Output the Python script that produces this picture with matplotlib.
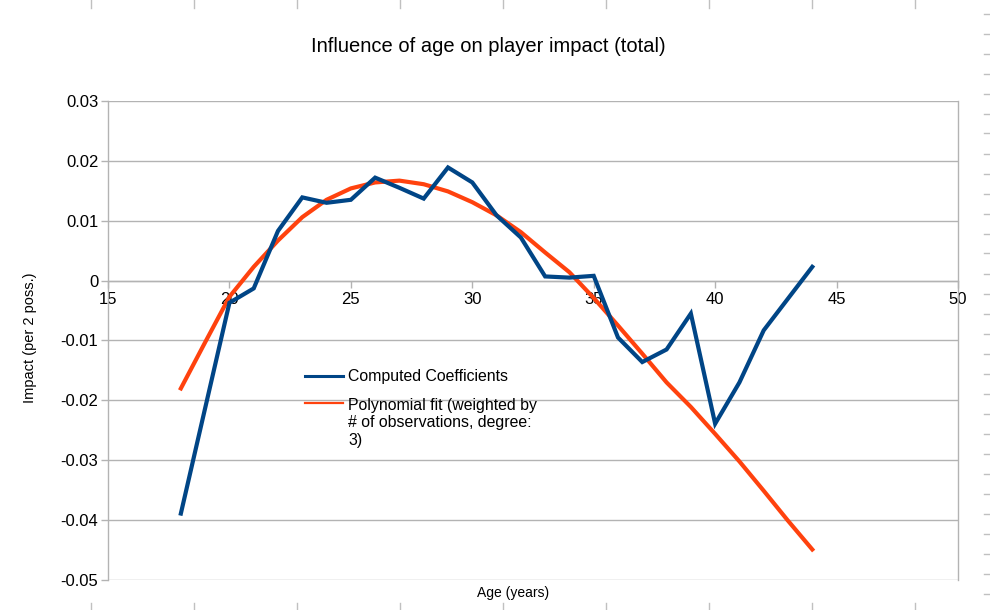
import matplotlib
matplotlib.use("Agg")
import matplotlib.pyplot as plt
from matplotlib.lines import Line2D

plt.rcParams['font.family'] = ['Liberation Sans', 'DejaVu Sans']
plt.rcParams['axes.unicode_minus'] = False

# ---- data ----
ages = [18, 19, 20, 21, 22, 23, 24, 25, 26, 27, 28, 29, 30, 31, 32, 33, 34, 35,
        36, 37, 38, 39, 40, 41, 42, 43, 44]
coefficients = [-0.0389, -0.0213, -0.0037, -0.0013, 0.0083, 0.0139, 0.0130, 0.0135,
                0.0172, 0.0155, 0.0137, 0.0189, 0.0164, 0.0109, 0.0072, 0.0007,
                0.0005, 0.0008, -0.0095, -0.0136, -0.0115, -0.0055, -0.0239,
                -0.0170, -0.0083, -0.0030, 0.0023]
poly_fit = [-0.0180, -0.0103, -0.0027, 0.0023, 0.0067, 0.0106, 0.0135, 0.0154,
            0.0164, 0.0167, 0.0161, 0.0149, 0.0131, 0.0109, 0.0081, 0.0047,
            0.0014, -0.0029, -0.0075, -0.0122, -0.0170, -0.0211, -0.0256,
            -0.0302, -0.0351, -0.0401, -0.0449]
x_ticks = [15, 20, 25, 30, 35, 40, 45, 50]
y_ticks = [0.03, 0.02, 0.01, 0, -0.01, -0.02, -0.03, -0.04, -0.05]
y_tick_labels = ['0.03', '0.02', '0.01', '0', '-0.01', '-0.02', '-0.03', '-0.04', '-0.05']
series_names = ['Computed Coefficients',
                ['Polynomial fit (weighted by', '# of observations, degree:', '3)']]
title = 'Influence of age on player impact (total)'
x_label = 'Age (years)'
y_label = 'Impact (per 2 poss.)'

BLUE = '#004586'
ORANGE = '#ff420e'
GRID = '#b3b3b3'

W, H = 990, 610
fig = plt.figure(figsize=(W / 100, H / 100), dpi=100)
L, R, T, B = 108, 958, 101, 580
ax = fig.add_axes([L / W, 1 - B / H, (R - L) / W, (B - T) / H])

ax.plot(ages, poly_fit, color=ORANGE, lw=3.0, solid_joinstyle='round', zorder=3)
ax.plot(ages, coefficients, color=BLUE, lw=3.0, solid_joinstyle='miter', zorder=4)

ax.set_xlim(15, 50)
ax.set_ylim(-0.05, 0.03)
ax.set_xticks(x_ticks)
ax.set_xticklabels([str(v) for v in x_ticks])
ax.set_yticks(y_ticks)
ax.set_yticklabels(y_tick_labels)

ax.grid(axis='y', color=GRID, lw=1.0)
ax.set_axisbelow(True)
ax.spines['top'].set_visible(False)
ax.spines['bottom'].set_position(('data', 0))
for s in ['left', 'right', 'bottom']:
    ax.spines[s].set_color(GRID)
    ax.spines[s].set_linewidth(1.0)
ax.tick_params(axis='both', colors=GRID, labelcolor='black', labelsize=12,
               length=5, width=1.0)
ax.tick_params(axis='y', pad=2)
ax.tick_params(axis='x', pad=3)
ax.set_facecolor('white')

# legend drawn manually (no frame)
def axc(px, py):
    return ((px - L) / (R - L), (B - py) / (B - T))

x0, y0 = axc(305, 376)
x1, _ = axc(343, 376)
ax.add_line(Line2D([x0, x1], [y0, y0], transform=ax.transAxes, color=BLUE, lw=2.2,
                   zorder=5))
tx, yb = axc(348, 381.5)
ax.text(tx, yb, series_names[0], transform=ax.transAxes, fontsize=11.4,
        va='baseline', ha='left', zorder=5)
_, y1 = axc(305, 403)
ax.add_line(Line2D([x0, x1], [y1, y1], transform=ax.transAxes, color=ORANGE, lw=1.6,
                   zorder=5))
for line, py in zip(series_names[1], [410, 427.5, 445.5]):
    _, yl = axc(348, py)
    ax.text(tx, yl, line, transform=ax.transAxes, fontsize=11.4,
            va='baseline', ha='left', zorder=5)

fig.text(488 / W, 1 - 47 / H, title, fontsize=14.5, ha='center', va='center')
fig.text(513 / W, 1 - 593 / H, x_label, fontsize=10, ha='center', va='center')
fig.text(30 / W, 1 - 338 / H, y_label, fontsize=10.5, ha='center', va='center',
         rotation=90)

# spreadsheet cell-border remnants around the chart
ART = '#c0c0c0'
for px in [91, 194, 297, 400, 503, 606, 709, 812, 915]:
    fig.add_artist(Line2D([px / W, px / W], [1, 1 - 8 / H], color=ART, lw=1))
    fig.add_artist(Line2D([px / W, px / W], [1 - 603 / H, 0], color=ART, lw=1))
for i in range(30):
    py = 13.5 + 20 * i
    fig.add_artist(Line2D([984 / W, 1], [1 - py / H, 1 - py / H], color=ART, lw=1))

fig.savefig('out.png', dpi=100, facecolor='white')
